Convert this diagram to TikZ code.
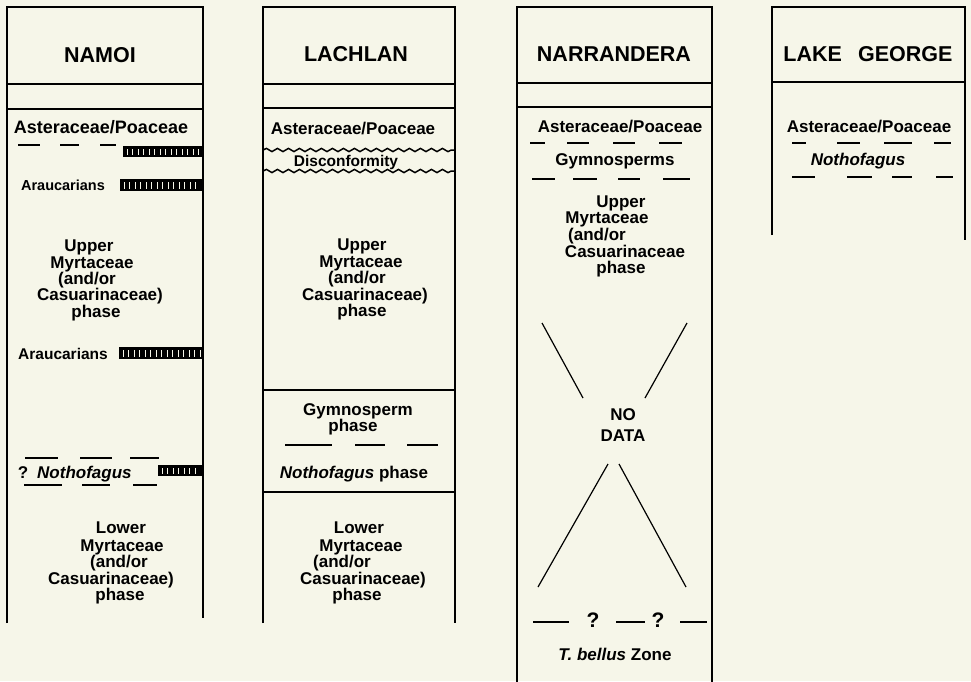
\documentclass[tikz,border=0pt]{standalone}
\usepackage{fontspec}
\setmainfont{Liberation Sans}
\usetikzlibrary{decorations.pathmorphing}
\definecolor{bg}{RGB}{246,246,233}
\tikzset{
 col/.style={line width=2.4pt},
 hl/.style={line width=2pt},
 dsh/.style={line width=1.8pt},
 wav/.style={line width=1.5pt, decorate, decoration={snake, segment length=11pt, amplitude=1.6pt}},
 xl/.style={line width=1.2pt},
 hd/.style={font=\bfseries\fontsize{21.5}{22}\selectfont, inner sep=0pt, anchor=base},
 tx/.style={font=\bfseries\fontsize{17}{17}\selectfont, inner sep=0pt, anchor=base},
 sm/.style={font=\bfseries\fontsize{14.5}{15}\selectfont, inner sep=0pt, anchor=base},
 qm/.style={font=\bfseries\fontsize{21}{21}\selectfont, inner sep=0pt, anchor=base},
}
\newcommand\barcode[4]{%
  \fill (#1,#3) rectangle (#2,#4);
  \pgfmathsetmacro\bca{#1+4}\pgfmathsetmacro\bcb{#1+9.5}\pgfmathsetmacro\bcc{#2-3}%
  \foreach \xx in {\bca,\bcb,...,\bcc}{\draw[bg,line width=0.6pt] (\xx,#3+3) -- (\xx,#4-2);}}
\begin{document}
\begin{tikzpicture}[x=1pt,y=-1pt]
\useasboundingbox (0,0) rectangle (971,681);
\fill[bg] (0,0) rectangle (971,681);

% ---------------- NAMOI ----------------
\draw[col] (7,623) -- (7,7) -- (203,7) -- (203,618);
\draw[hl] (7,84) -- (203,84);
\draw[hl] (7,109) -- (203,109);
\node[hd] (namoi) at (100,62) {NAMOI};
\node[tx,font=\bfseries\fontsize{18}{18}\selectfont] (na1) at (101,133) {Asteraceae/Poaceae};
\draw[dsh] (18,145) -- (40,145) (60,145) -- (79,145) (100,145) -- (116,145);
\barcode{123}{203}{146}{157}
\node[sm] (na2) at (63,190) {Araucarians};
\barcode{120}{203}{179}{191}
\node[tx] (na3) at (89,251) {Upper};
\node[tx] (na4) at (92,268) {Myrtaceae};
\node[tx] (na5) at (87,284) {(and/or};
\node[tx] (na6) at (100,300.5) {Casuarinaceae)};
\node[tx] (na7) at (96,317) {phase};
\node[sm,font=\bfseries\fontsize{15.5}{16}\selectfont] (na8) at (63,359.5) {Araucarians};
\barcode{119}{203}{347}{359}
\draw[dsh] (25,458) -- (58,458) (80,458) -- (112,458) (130,458) -- (159,458);
\node[tx] (na9) at (23,478) {?};
\node[tx,anchor=base west] (na10) at (37,478) {\itshape Nothofagus};
\barcode{158}{203}{465}{476}
\draw[dsh] (24,485) -- (62,485) (82,485) -- (110,485) (133,485) -- (157,485);
\node[tx] (na11) at (121,533) {Lower};
\node[tx] (na12) at (122,551) {Myrtaceae};
\node[tx] (na13) at (119,567) {(and/or};
\node[tx] (na14) at (111,584) {Casuarinaceae)};
\node[tx] (na15) at (120,600) {phase};

% ---------------- LACHLAN ----------------
\draw[col] (263,623) -- (263,7) -- (455,7) -- (455,623);
\draw[hl] (263,84) -- (455,84);
\draw[hl] (263,108) -- (455,108);
\draw[hl] (263,390) -- (455,390);
\draw[hl] (263,492) -- (455,492);
\node[hd] (lachlan) at (356,61) {LACHLAN};
\node[tx] (la1) at (353,134) {Asteraceae/Poaceae};
\draw[wav] (263,150) -- (455,150);
\draw[wav] (263,171) -- (455,171);
\node[sm,font=\bfseries\fontsize{15.5}{16}\selectfont] (la2) at (346,166) {Disconformity};
\node[tx] (la3) at (362,250) {Upper};
\node[tx] (la4) at (361,267) {Myrtaceae};
\node[tx] (la5) at (357,283) {(and/or};
\node[tx] (la6) at (365,300) {Casuarinaceae)};
\node[tx] (la7) at (362,316) {phase};
\node[tx] (la8) at (358,415) {Gymnosperm};
\node[tx] (la9) at (353,431) {phase};
\draw[dsh] (285,445) -- (332,445) (355,445) -- (385,445) (407,445) -- (438,445);
\node[tx] (la10) at (354,478) {\itshape Nothofagus\upshape\ phase};
\node[tx] (la11) at (359,533) {Lower};
\node[tx] (la12) at (361,551) {Myrtaceae};
\node[tx] (la13) at (342,567) {(and/or};
\node[tx] (la14) at (363,584) {Casuarinaceae)};
\node[tx] (la15) at (357,600) {phase};

% ---------------- NARRANDERA ----------------
\draw[col] (517,690) -- (517,7) -- (712,7) -- (712,690);
\draw[hl] (517,83) -- (712,83);
\draw[hl] (517,107) -- (712,107);
\node[hd] (narrandera) at (614,61) {NARRANDERA};
\node[tx] (nr1) at (620,132) {Asteraceae/Poaceae};
\draw[dsh] (530,143) -- (545,143) (567,143) -- (589,143) (613,143) -- (635,143) (659,143) -- (682,143);
\node[tx] (nr2) at (615,165) {Gymnosperms};
\draw[dsh] (532,179) -- (555,179) (573,179) -- (597,179) (618,179) -- (640,179) (663,179) -- (690,179);
\node[tx] (nr3) at (621,207) {Upper};
\node[tx] (nr4) at (607,223) {Myrtaceae};
\node[tx] (nr5) at (597,240) {(and/or};
\node[tx] (nr6) at (625,257) {Casuarinaceae};
\node[tx] (nr7) at (621,273) {phase};
\draw[xl] (542,323) -- (583,398);
\draw[xl] (687,323) -- (645,398);
\node[tx] (nr8) at (623,420) {NO};
\node[tx] (nr9) at (623,441) {DATA};
\draw[xl] (608,464) -- (538,587);
\draw[xl] (619,464) -- (686,587);
\draw[dsh] (533,622) -- (569,622) (616,622) -- (645,622) (680,622) -- (707,622);
\node[qm] (nr10) at (593,627) {?};
\node[qm] (nr11) at (658,627) {?};
\node[tx] (nr12) at (615,660) {\itshape T. bellus\upshape\ Zone};

% ---------------- LAKE GEORGE ----------------
\draw[col] (772,235) -- (772,7) -- (965,7) -- (965,240);
\draw[hl] (772,82) -- (965,82);
\node[hd] (lakegeorge) at (868,61) {LAKE\hspace{0.75em}GEORGE};
\node[tx] (lg1) at (869,132) {Asteraceae/Poaceae};
\draw[dsh] (792,143) -- (806,143) (837,143) -- (860,143) (884,143) -- (912,143) (934,143) -- (951,143);
\node[tx] (lg2) at (858,165) {\itshape Nothofagus};
\draw[dsh] (792,177) -- (815,177) (847,177) -- (872,177) (892,177) -- (912,177) (936,177) -- (953,177);
\end{tikzpicture}
\end{document}
